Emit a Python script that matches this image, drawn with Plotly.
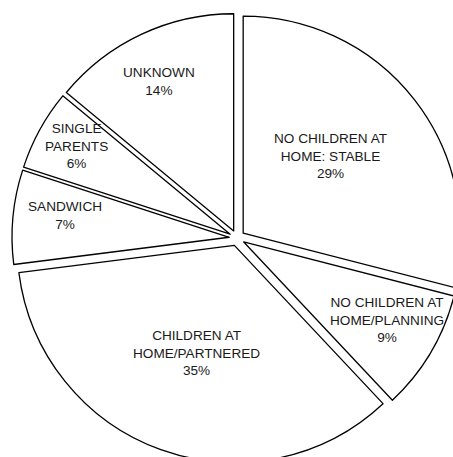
import math
import plotly.graph_objects as go

# ---- data ----
labels = ["NO CHILDREN AT<br>HOME: STABLE", "NO CHILDREN AT<br>HOME/PLANNING",
          "CHILDREN AT<br>HOME/PARTNERED", "SANDWICH", "SINGLE<br>PARENTS", "UNKNOWN"]
values = [29, 9, 35, 7, 6, 14]

# ---- style ----
PULL = 0.036
label_radius = [0.535, 0.753, 0.526, 0.765, 0.814, 0.767]  # fraction of radius, from slice tip
label_angle_shift = [-3.8, -2.1, -0.2, 2.3, 1.1, -1.4]      # degrees, relative to slice mid-angle
W, H = 470, 470
ML, MT, MR, MB = 12, 13, 8, 7
FONT = "Liberation Sans, Arial, sans-serif"

fig = go.Figure(go.Pie(
    labels=labels,
    values=values,
    sort=False,
    direction="clockwise",
    rotation=0,
    pull=[PULL] * len(values),
    marker=dict(colors=["white"] * len(values), line=dict(color="black", width=1.3)),
    textinfo="none",
    hoverinfo="label+percent",
    showlegend=False,
))

# label annotations placed along each slice's mid-angle (derived from data)
total = sum(values)
r_paper = 0.5 / (1 + PULL)
cum = 0
annotations = []
for lab, v, fr, sh in zip(labels, values, label_radius, label_angle_shift):
    tip_ang = (cum + v / 2) / total * 2 * math.pi
    lab_ang = tip_ang + math.radians(sh)
    cum += v
    x = 0.5 + r_paper * (PULL * math.sin(tip_ang) + fr * math.sin(lab_ang))
    y = 0.5 + r_paper * (PULL * math.cos(tip_ang) + fr * math.cos(lab_ang))
    pct = round(v / total * 100)
    annotations.append(dict(
        x=x, y=y, xref="paper", yref="paper", xanchor="center", yanchor="middle",
        text=f"{lab}<br>{pct}%", showarrow=False,
        font=dict(family=FONT, size=13.6, color="#1a1a1a"), align="center",
    ))

fig.update_layout(
    width=W, height=H,
    margin=dict(l=ML, r=MR, t=MT, b=MB),
    paper_bgcolor="white", plot_bgcolor="white",
    annotations=annotations,
)

fig.write_html("out.html", post_script=(
    "document.documentElement.style.overflow='hidden';"
    "document.body.style.overflow='hidden';"
    "document.body.style.margin='0';"
))
